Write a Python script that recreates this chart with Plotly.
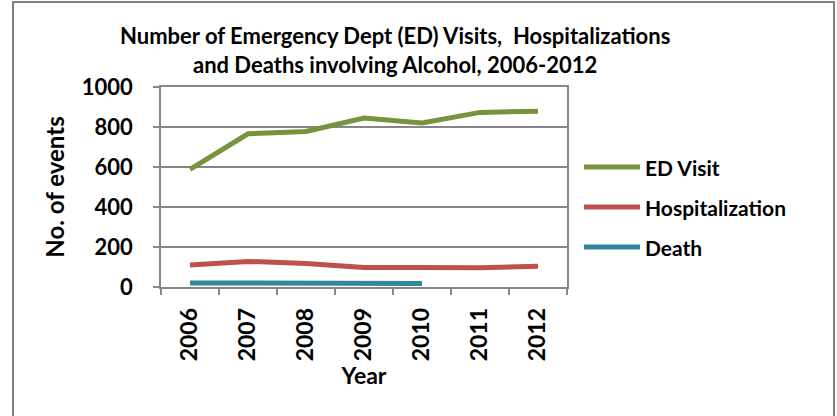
import plotly.graph_objects as go

# Alcohol-related events by year
years = ["2006", "2007", "2008", "2009", "2010", "2011", "2012"]
ed_visits = [588, 766, 778, 845, 820, 873, 879]
hospitalizations = [110, 128, 118, 97, 98, 96, 104]
death_years = ["2006", "2007", "2008", "2009", "2010"]
deaths = [20, 19, 17, 16, 18]

series_names = ["ED Visit", "Hospitalization", "Death"]
series_colors = ["#77933C", "#C0504D", "#31859C"]

FONT = "Lato"
GRID = "#868686"

fig = go.Figure()
for name, color, xs, ys in zip(series_names, series_colors,
                               [years, years, death_years],
                               [ed_visits, hospitalizations, deaths]):
    fig.add_trace(go.Scatter(x=xs, y=ys, mode="lines", name=name,
                             line=dict(color=color, width=5),
                             showlegend=False))

# Plot area in pixels: x 161..567, y 87..287
L, R, T, B = 161, 567, 87, 287
W, H = 837, 416
pw, ph = R - L, B - T

def px_x(p):
    return (p - L) / pw

def px_y(p):
    return (B - p) / ph

def bold(size):
    return dict(family=FONT, size=size, color="black", weight="bold")

shapes = []
annotations = []

# Outer chart border
shapes.append(dict(type="rect", xref="paper", yref="paper",
                   x0=px_x(13), x1=px_x(834), y0=px_y(430), y1=px_y(2),
                   line=dict(color="#808080", width=2), layer="below"))

# Legend drawn beside the plot
for i, (name, color) in enumerate(zip(series_names, series_colors)):
    yc = 167 + 40 * i
    shapes.append(dict(type="line", xref="paper", yref="paper",
                       x0=px_x(584), x1=px_x(640), y0=px_y(yc), y1=px_y(yc),
                       line=dict(color=color, width=5)))
    annotations.append(dict(xref="paper", yref="paper", x=px_x(643), y=px_y(yc),
                            xanchor="left", yanchor="middle", showarrow=False,
                            text=name, font=bold(21)))

# Title
annotations.append(dict(xref="paper", yref="paper", x=px_x(395), y=px_y(50),
                        xanchor="center", yanchor="middle", showarrow=False,
                        text="Number of Emergency Dept (ED) Visits,  Hospitalizations<br>"
                             "and Deaths involving Alcohol, 2006-2012",
                        font=bold(22)))

fig.update_layout(
    width=W, height=H,
    margin=dict(l=L, r=W - R, t=T, b=H - B),
    paper_bgcolor="white", plot_bgcolor="white",
    shapes=shapes, annotations=annotations,
    font=dict(family=FONT, color="black"),
)

fig.update_xaxes(
    type="category", categoryorder="array", categoryarray=years,
    tickson="boundaries", ticks="outside", ticklen=6, tickcolor=GRID, tickwidth=1.5,
    tickangle=-90, tickfont=bold(23),
    ticklabelstandoff=10,
    showline=True, linecolor=GRID, linewidth=1.5, mirror=True,
    showgrid=False, range=[-0.5, 6.5],
    title=dict(text="Year", font=bold(23), standoff=0),
)

fig.update_yaxes(
    range=[0, 1000], dtick=200, tick0=0,
    ticks="outside", ticklen=6, tickcolor=GRID, tickwidth=1.5,
    tickfont=bold(22),
    ticklabelstandoff=16,
    showline=True, linecolor=GRID, linewidth=1.5, mirror=True,
    showgrid=True, gridcolor=GRID, gridwidth=1.5, zeroline=False,
    title=dict(text="No. of events", font=bold(24), standoff=10),
)

fig.write_html("out.html")
